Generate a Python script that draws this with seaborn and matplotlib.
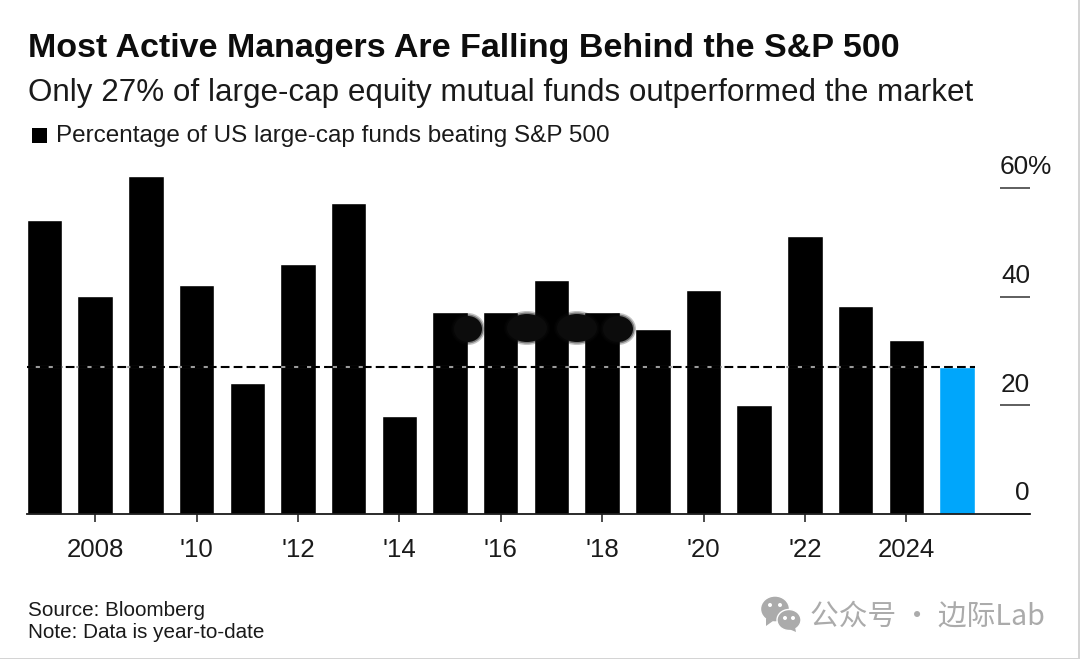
import matplotlib
matplotlib.use('Agg')
import matplotlib.pyplot as plt
from matplotlib.patches import Ellipse, Polygon, Rectangle
import pandas as pd
import seaborn as sns

# values
years = ['2007', '2008', '2009', '2010', '2011', '2012', '2013', '2014', '2015', '2016',
         '2017', '2018', '2019', '2020', '2021', '2022', '2023', '2024', '2025']
pct_beating = [54.1, 40.1, 62.2, 42.1, 24.1, 46.1, 57.2, 18.1, 37.2, 37.2, 43.1, 37.2, 34.1, 41.2, 20.1, 51.2,
               38.3, 32.1, 27]
current_pct = 27
tick_years = ['2008', '2010', '2012', '2014', '2016', '2018', '2020', '2022', '2024']
tick_labels = ['2008', "'10", "'12", "'14", "'16", "'18", "'20", "'22", '2024']
y_ticks = [0, 20, 40, 60]
y_labels = ['0', '20', '40', '60%']

W, H = 1080, 659
BLACK = '#000000'
BLUE = '#00a6fb'
FONT = 'Liberation Sans'

sns.set_theme(style='white')
plt.rcParams['font.family'] = [FONT, 'DejaVu Sans']

df = pd.DataFrame({'year': years, 'pct': pct_beating})
colors = [BLACK] * (len(years) - 1) + [BLUE]

fig = plt.figure(figsize=(W / 100, H / 100), dpi=100, facecolor='white')
# axes placed by pixel: x 27-1030, baseline at y 514, 60 at y 188
y_bottom = 514
px_per_unit = (514 - 188) / 60
y_top = 160
ax = fig.add_axes([27 / W, 1 - y_bottom / H, (1030 - 27) / W, (y_bottom - y_top) / H])

sns.barplot(data=df, x='year', y='pct', hue='year', palette=colors, legend=False,
            width=0.7, saturation=1, ax=ax, zorder=2)
ax.set_xlim(-0.345, 19.44)
ax.set_ylim(0, (y_bottom - y_top) / px_per_unit)
ax.set_xlabel('')
ax.set_ylabel('')

for s in ['top', 'left', 'right']:
    ax.spines[s].set_visible(False)
ax.spines['bottom'].set_color('#1a1a1a')
ax.spines['bottom'].set_linewidth(1.3)

ax.set_xticks([years.index(y) for y in tick_years], tick_labels)
ax.tick_params(axis='x', bottom=True, length=6, width=1.1, color='#1a1a1a', pad=11,
               labelsize=18.6, labelcolor='#1a1a1a')

# y axis: short rules on the right, labels sitting on top of them
ax.set_yticks(y_ticks, [])
ax.yaxis.tick_right()
ax.tick_params(axis='y', right=True, direction='in', length=21.6, width=1.1, color='#333333')
trans = ax.get_yaxis_transform()
for v, lab in zip(y_ticks, y_labels):
    if lab.endswith('%'):
        ax.text(973 / 1003, v + 1.6, lab, transform=trans, ha='left', va='bottom',
                fontsize=18.8, color='#1a1a1a', clip_on=False)
    else:
        ax.text(1.0, v + 1.6, lab, transform=trans, ha='right', va='bottom',
                fontsize=18.8, color='#1a1a1a', clip_on=False)

# dashed reference line, gaps show grey where it crosses a black bar
ax.plot([-0.345, 18.35], [current_pct, current_pct], color=BLACK, lw=1.5, linestyle=(0, (4.2, 2.0)), zorder=4)
for bar in ax.patches[:len(years) - 1]:
    if bar.get_height() > current_pct:
        x0 = bar.get_x()
        ax.plot([x0, x0 + bar.get_width()], [current_pct, current_pct], color='#9a9a9a', lw=1.5, zorder=3)


def ftext(x, y, s, **kw):
    fig.text(x / W, 1 - y / H, s, va='center', ha='left', **kw)


ftext(28, 48, 'Most Active Managers Are Falling Behind the S&P 500', fontsize=24.5, fontweight='bold', color='#0d0d0d')
ftext(28, 93, 'Only 27% of large-cap equity mutual funds outperformed the market', fontsize=22.6, color='#1a1a1a')
ftext(56, 136, 'Percentage of US large-cap funds beating S&P 500', fontsize=17.5, color='#1a1a1a')
fig.add_artist(Rectangle((32 / W, 1 - 143 / H), 15 / W, 15 / H, transform=fig.transFigure, color=BLACK, lw=0))

ftext(28, 610, 'Source: Bloomberg', fontsize=14.9, color='#1a1a1a')
ftext(28, 633, 'Note: Data is year-to-date', fontsize=14.9, color='#1a1a1a')

# soft smudge in the source picture over the 2015-2018 bars
for cx, cy, w, h in [(468, 329, 28, 26), (527, 328, 40, 28), (577, 328, 40, 28), (618, 329, 30, 26)]:
    for grow, alpha in [(6, 0.25), (3, 0.4), (0, 1)]:
        fig.add_artist(Ellipse((cx / W, 1 - cy / H), (w + grow) / W, (h + grow) / H, transform=fig.transFigure,
                               color='#0c0c0c', alpha=alpha, lw=0))

# watermark
GREY = '#ababab'
ftext(810, 616, '公众号 · 边际Lab', fontsize=20.7, color=GREY,
      family=['Noto Sans CJK SC', 'DejaVu Sans'])
icon = [((775, 609), 29, 26, GREY), ((789, 620), 24, 21, GREY)]
for (cx, cy), w, h, col in icon:
    fig.add_artist(Ellipse((cx / W, 1 - cy / H), w / W, h / H, transform=fig.transFigure,
                           facecolor=col, edgecolor='white', lw=1))
for pts in ([(766, 618), (766, 626), (773, 621)], [(795, 627), (796, 632), (789, 629)]):
    fig.add_artist(Polygon([(x / W, 1 - y / H) for x, y in pts], transform=fig.transFigure, color=GREY, lw=0))
for cx, cy in [(770, 605), (780, 605), (785, 618), (793, 618)]:
    fig.add_artist(Ellipse((cx / W, 1 - cy / H), 4 / W, 4 / H, transform=fig.transFigure, color='white', lw=0))

# thin screenshot edge, right and bottom
fig.add_artist(Rectangle((1078 / W, 0), 2 / W, 1, transform=fig.transFigure, color='#d4d4d4', lw=0))
fig.add_artist(Rectangle((0, 0), 1, 1.5 / H, transform=fig.transFigure, color='#d4d4d4', lw=0))

fig.savefig('out.png', dpi=100)
